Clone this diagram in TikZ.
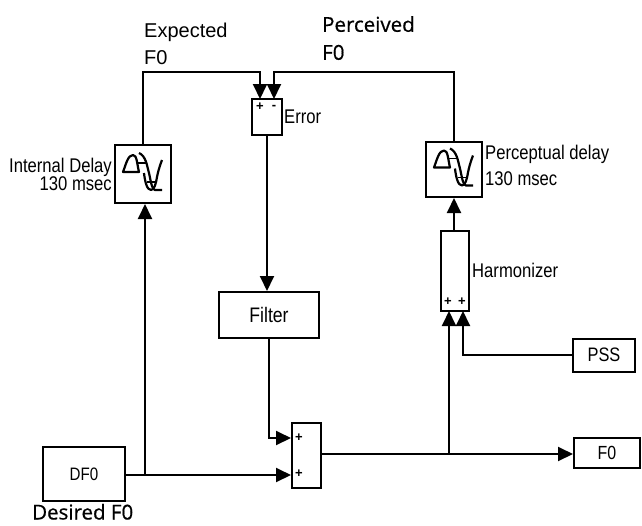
\documentclass[tikz,border=0pt]{standalone}
\usepackage{fontspec}
\setmainfont{Liberation Sans}
\newfontfamily\narrowfont[FakeStretch=0.84]{Liberation Sans}
\newfontfamily\humanist[FakeBold=0.6]{Open Sans}
\usetikzlibrary{arrows.meta}
\tikzset{
  x=1pt,y=-1pt,
  block/.style={draw=black,line width=2pt,fill=white,inner sep=0pt,minimum width=#1},
  wire/.style={draw=black,line width=1.9pt},
  arr/.style={wire,-{Triangle[length=15pt,width=14pt]}},
  lab/.style={font=\narrowfont\fontsize{19.8}{20}\selectfont,inner sep=0pt,text=black},
  capt/.style={font=\fontsize{20}{27}\selectfont,inner sep=0pt,align=left,text=black},
  bcapt/.style={font=\humanist\fontsize{20.5}{28}\selectfont,inner sep=0pt,text=black},
  sign/.style={font=\bfseries\fontsize{13}{13}\selectfont,inner sep=0pt},
  wave/.pic={
    \draw[line width=2.2pt,line join=round]
      (-20,-2) .. controls (-17,-10) and (-15,-19) .. (-10,-19)
      .. controls (-6,-19) and (-6,-10) .. (-4,-2) -- cycle;
    \draw[line width=2.2pt,line join=round]
      (-4,-21) .. controls (3,-18) and (4,-8) .. (6,-1)
      .. controls (8,8) and (9,16) .. (12,16) -- (19,16);
    \draw[line width=2.2pt,line join=round]
      (19,-14) .. controls (16,-6) and (15,-2) .. (14,3)
      .. controls (13,10) and (11,16) .. (8,16)
      .. controls (4,16) and (2,8) .. (1,-1);
    \draw[line width=1.8pt] (-6,-11) -- (4,-11) (4,8) -- (11.5,8);
  }
}
\begin{document}
\begin{tikzpicture}
\useasboundingbox (0,0) rectangle (642,525);
\fill[white] (0,0) rectangle (642,525);
% boxes
\node[block=30pt,minimum height=36pt] (err) at (267,117) {};
\node[block=56pt,minimum height=58pt] (idel) at (143,174) {};
\node[block=56pt,minimum height=55pt] (pdel) at (454,169.5) {};
\node[block=28pt,minimum height=80pt] (harm) at (455,271) {};
\node[block=100pt,minimum height=46pt,font=\narrowfont\fontsize{21}{21}\selectfont] (filt) at (269,315) {Filter};
\node[block=29pt,minimum height=65pt] (sum) at (306.5,455.5) {};
\node[block=82pt,minimum height=54pt,font=\narrowfont\fontsize{18}{18}\selectfont] (dfo) at (84,474) {DF0};
\node[block=62pt,minimum height=33pt,font=\narrowfont\fontsize{19.5}{19.5}\selectfont] (pss) at (604,355) {PSS};
\node[block=66pt,minimum height=30pt,font=\narrowfont\fontsize{19}{19}\selectfont] (fo) at (607,453) {F0};
% icons
\path (idel.center) pic {wave};
\path (pdel.center) pic {wave};
% junctions and bends
\coordinate (j1) at (145,475);
\coordinate (j2) at (449,454);
\coordinate (sumin1) at (sum.west |- 0,438);
\coordinate (sumin2) at (sum.west |- j1);
\coordinate (errin1) at (260,99);
\coordinate (errin2) at (274,99);
\coordinate (harmin1) at (449,311);
\coordinate (harmin2) at (463,311);
% connectors
\draw[arr] (idel.north) |- (260,72) -- (errin1);
\draw[arr] (pdel.north) |- (274,72) -- (errin2);
\draw[arr] (err.south) -- (err.south |- filt.north);
\draw[arr] (filt.south) |- (sumin1);
\draw[arr] (dfo.east |- j1) -- (sumin2);
\draw[arr] (j1) -- (j1 |- idel.south);
\draw[wire] (sum.east |- j2) -- (j2);
\draw[arr] (j2) -- (fo.west |- j2);
\draw[arr] (j2) -- (harmin1);
\draw[arr] (pss.west) -| (harmin2);
\draw[arr] (harm.north -| pdel.south) -- (pdel.south);
% signs
\node[sign] (s1) at (260,107) {+};
\node[sign] (s2) at (274,107) {-};
\node[sign] (s3) at (448,302) {+};
\node[sign] (s4) at (462,302) {+};
\node[sign] (s5) at (299,438) {+};
\node[sign] (s6) at (299,474) {+};
% labels
\node[lab,anchor=west] (lerr) at (284,117) {Error};
\node[lab,anchor=east,align=right] (lid) at (112,174) {Internal Delay\\[-2pt]130 msec};
\node[lab,anchor=west,align=left] (lpd) at (485,165) {Perceptual delay\\[6pt]130 msec};
\node[lab,anchor=west] (lh) at (472,270) {Harmonizer};
\node[capt,anchor=north west] (lex) at (144,23) {Expected\\F0};
\node[bcapt,anchor=north west,align=left] (lpe) at (322,16) {Perceived\\F0};
\node[bcapt,anchor=base west] (lde) at (32,519.5) {Desired F0};
\end{tikzpicture}
\end{document}
